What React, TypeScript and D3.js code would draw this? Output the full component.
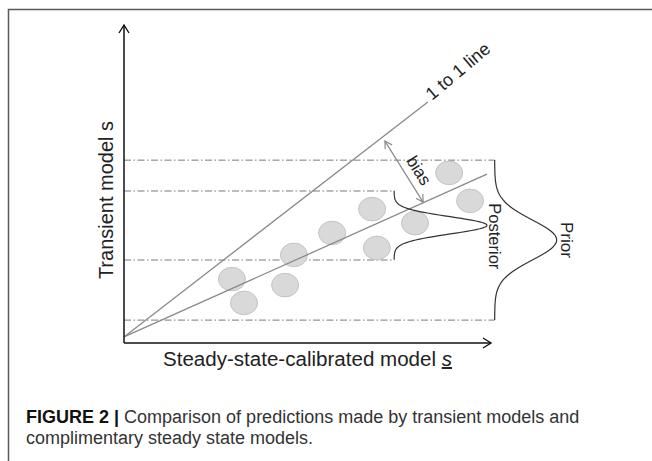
import React from "react";
import * as d3 from "d3";

// ---- data (schematic units) ----
const pointX = [2.94, 3.27, 4.63, 4.39, 5.67, 6.76, 6.89, 7.93, 8.86, 9.43];
const pointY = [2.01, 1.26, 2.77, 1.82, 3.46, 4.21, 2.99, 3.77, 5.35, 4.47];

// horizontal dash-dot reference levels and their right ends
const levelY = [5.75, 4.78, 2.61, 0.72];
const levelXEnd = [10.1, 7.36, 7.36, 10.1];

// lines: 1 to 1 line and fitted (biased) line
const oneToOne = [[0, 0.19], [8.28, 7.58]];
const fitLine = [[0, 0.19], [9.89, 5.31]];
const biasArrow = [[7.11, 6.35], [8.15, 4.43]];

// distributions: name, baseline x, amplitude, mean y, sd y, half-range
const distNames = ["Posterior", "Prior"];
const distBase = [7.36, 10.1];
const distAmp = [2.53, 1.69];
const distMean = [3.7, 3.24];
const distSd = [0.27, 0.63];
const distHalf = [1.085, 2.515];

const W = 652;
const H = 461;

export default function App() {
  const x = d3.scaleLinear().domain([0, 10]).range([124, 491]);
  const y = d3.scaleLinear().domain([0, 10]).range([343, 25]);

  const line = d3.line<[number, number]>().x((d) => x(d[0])).y((d) => y(d[1]));

  const distPaths = distNames.map((_, i) => {
    const n = 80;
    const pts: [number, number][] = d3.range(n + 1).map((k) => {
      const yy = distMean[i] - distHalf[i] + (2 * distHalf[i] * k) / n;
      const z = (yy - distMean[i]) / distSd[i];
      return [distBase[i] + distAmp[i] * Math.exp(-0.5 * z * z), yy];
    });
    return line(pts) as string;
  });

  const gray = "#8a8a8a";
  const font = "'Liberation Sans', Arial, Helvetica, sans-serif";

  // bias arrow geometry
  const bx1 = x(biasArrow[0][0]), by1 = y(biasArrow[0][1]);
  const bx2 = x(biasArrow[1][0]), by2 = y(biasArrow[1][1]);
  const bAng = (Math.atan2(by2 - by1, bx2 - bx1) * 180) / Math.PI;

  const o1 = [x(oneToOne[1][0]), y(oneToOne[1][1])];

  return (
    <svg
      width={W}
      height={H}
      style={{ position: "absolute", left: 0, top: 0, background: "#fff" }}
      fontFamily={font}
    >
      <defs>
        <marker id="openG" viewBox="-8 -5 10 10" refX={0} refY={0} markerWidth={10} markerHeight={10} markerUnits="userSpaceOnUse" orient="auto-start-reverse">
          <path d="M-7,-4 L0,0 L-7,4" fill="none" stroke={gray} strokeWidth={1.2} />
        </marker>
      </defs>
      {/* frame */}
      <path d={`M8.5,${H} L8.5,9.5 L${W},9.5`} fill="none" stroke="#5a5a5a" strokeWidth={1.5} />

      {/* dash-dot levels */}
      {levelY.map((v, i) => (
        <line
          key={"lv" + i}
          x1={x(0)}
          x2={x(levelXEnd[i])}
          y1={y(v)}
          y2={y(v)}
          stroke="#7a7a7a"
          strokeWidth={1}
          strokeDasharray="7,2.5,1.5,2.5"
        />
      ))}

      {/* circles */}
      {pointX.map((px, i) => (
        <ellipse
          key={"c" + i}
          cx={x(px)}
          cy={y(pointY[i])}
          rx={13.5}
          ry={11.8}
          fill="#d9d9d9"
          stroke="#c4c4c4"
          strokeWidth={1}
        />
      ))}

      {/* lines */}
      <path d={line(oneToOne as [number, number][]) as string} stroke={gray} strokeWidth={1.3} fill="none" />
      <path d={line(fitLine as [number, number][]) as string} stroke={gray} strokeWidth={1.3} fill="none" />

      {/* bias arrow */}
      <line x1={bx1} y1={by1} x2={bx2} y2={by2} stroke={gray} strokeWidth={1.2} markerStart="url(#openG)" markerEnd="url(#openG)" />
      <text
        transform={`translate(${(bx1 + bx2) / 2 + 10},${(by1 + by2) / 2 + 2}) rotate(${bAng})`}
        textAnchor="middle"
        fontSize={17}
        fill="#222"
      >
        bias
      </text>

      {/* distributions */}
      {distPaths.map((p, i) => (
        <path key={"d" + i} d={p} fill="none" stroke="#333" strokeWidth={1.2} />
      ))}
      <text transform={`translate(489,${y(distMean[0]) + 11}) rotate(90)`} textAnchor="middle" fontSize={16.5} fill="#222">
        {distNames[0]}
      </text>
      <text transform={`translate(561,${y(distMean[1])}) rotate(90)`} textAnchor="middle" fontSize={17} fill="#222">
        {distNames[1]}
      </text>

      {/* 1 to 1 label */}
      <text transform={`translate(${o1[0] + 4},${o1[1] - 1}) rotate(-40)`} fontSize={18} fill="#222">
        1 to 1 line
      </text>

      {/* axes */}
      <path d={`M${x(0)},${y(0)} L${x(0)},${y(10)}`} stroke="#111" strokeWidth={1.5} fill="none" />
      <path d={`M${x(0) - 5},${y(10) + 8} L${x(0)},${y(10)} L${x(0) + 5},${y(10) + 8}`} stroke="#111" strokeWidth={1.4} fill="none" />
      <path d={`M${x(0)},${y(0)} L${x(10)},${y(0)}`} stroke="#111" strokeWidth={1.5} fill="none" />
      <path d={`M${x(10) - 8},${y(0) - 5} L${x(10)},${y(0)} L${x(10) - 8},${y(0) + 5}`} stroke="#111" strokeWidth={1.4} fill="none" />

      {/* axis labels */}
      <text transform={`translate(113,200) rotate(-90)`} textAnchor="middle" fontSize={20} fill="#222">
        Transient model s
      </text>
      <text x={163} y={366} fontSize={20} fill="#222" textLength={289} lengthAdjust="spacingAndGlyphs">
        Steady-state-calibrated model{" "}
        <tspan fontStyle="italic" textDecoration="underline">s</tspan>
      </text>

      {/* caption */}
      <text x={26} y={423} fontSize={18} fill="#333">
        <tspan fontWeight="bold" fill="#111">FIGURE 2 |</tspan> Comparison of predictions made by transient models and
      </text>
      <text x={26} y={444} fontSize={18} fill="#333">
        complimentary steady state models.
      </text>
    </svg>
  );
}
